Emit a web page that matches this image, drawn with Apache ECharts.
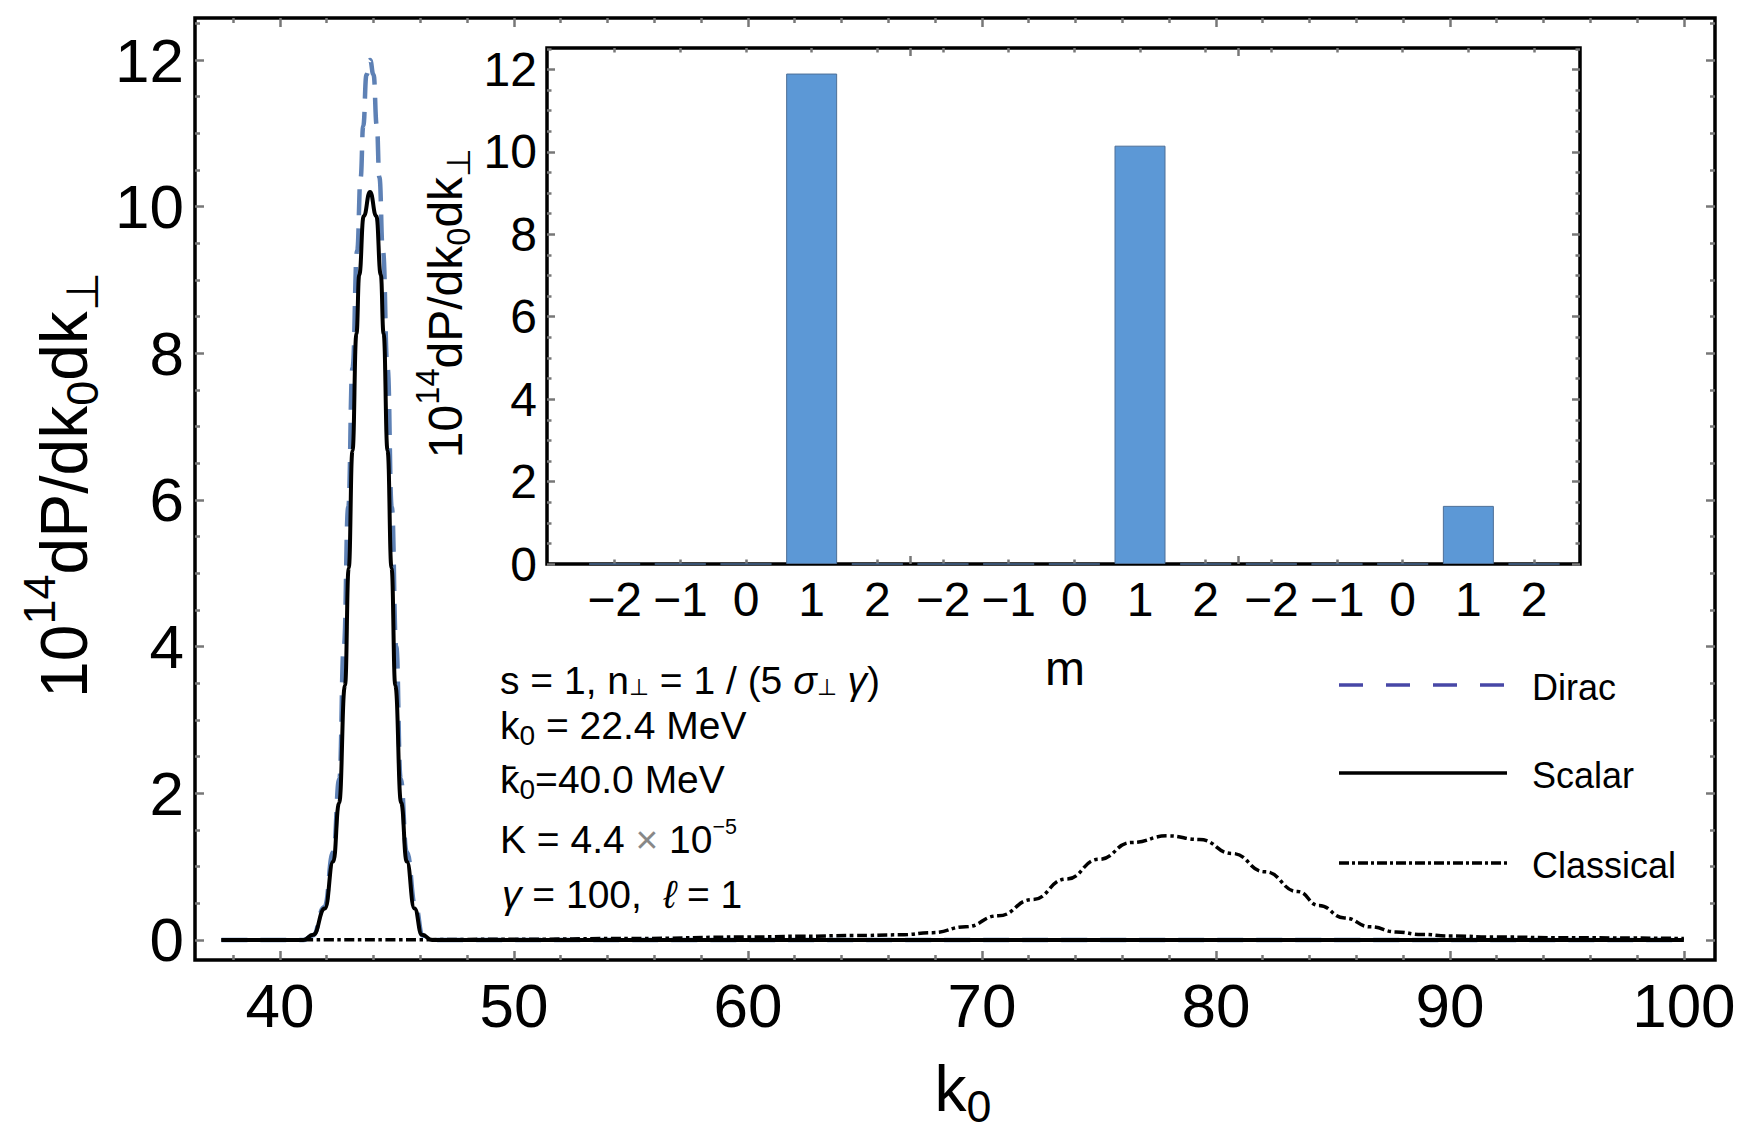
<!DOCTYPE html>
<html>
<head>
<meta charset="utf-8">
<title>Espectro k0</title>
<script src="https://cdn.jsdelivr.net/npm/echarts@6/dist/echarts.min.js"></script>
<style>
    html, body { margin: 0; padding: 0; background: #fff; }
    #chart { width: 1745px; height: 1132px; }
</style>
</head>
<body>
<div id="chart"></div>
<script>
// curvas principales: k0 (MeV) y 10^14 dP/dk0dk
var diracK = [37.5, 41.0, 41.4, 41.9, 42.28, 42.54, 42.73, 42.92, 43.1, 43.3, 43.45, 43.56, 43.7, 43.85, 44.0, 44.14, 44.25, 44.4, 44.6, 44.78, 44.97, 45.16, 45.42, 45.8, 46.1, 46.5, 100];
var diracVals = [0, 0, 0.06, 0.45, 1.2, 2.2, 4.0, 5.9, 7.8, 9.4, 10.4, 11.1, 11.8, 12.0, 11.8, 11.1, 10.4, 9.4, 7.8, 5.9, 4.0, 2.2, 1.2, 0.45, 0.06, 0, 0];

var scalarK = [37.5, 41.0, 41.42, 41.92, 42.28, 42.53, 42.78, 42.94, 43.1, 43.27, 43.39, 43.58, 43.85, 44.12, 44.31, 44.43, 44.6, 44.77, 44.93, 45.18, 45.42, 45.75, 46.07, 46.5, 100];
var scalarVals = [0, 0, 0.07, 0.43, 1.07, 1.87, 3.47, 5.07, 6.67, 8.27, 9.07, 9.87, 10.2, 9.87, 9.07, 8.27, 6.67, 5.07, 3.47, 1.87, 1.07, 0.43, 0.07, 0, 0];

var classicalK = [37.5, 45, 50, 55, 60, 62.2, 64.5, 66.5, 67.9, 69.3, 70.7, 72.15, 73.6, 75.0, 76.4, 77.95, 79.3, 80.7, 82.1, 83.5, 84.4, 85.5, 86.6, 87.7, 88.8, 90, 92, 95, 100];
var classicalVals = [0, 0.004, 0.01, 0.02, 0.04, 0.05, 0.06, 0.07, 0.10, 0.18, 0.33, 0.55, 0.83, 1.10, 1.33, 1.42, 1.37, 1.18, 0.93, 0.66, 0.47, 0.30, 0.18, 0.11, 0.075, 0.055, 0.04, 0.03, 0.02];

// recuadro: barras por m
var mLabels = ['−2', '−1', '0', '1', '2', '−2', '−1', '0', '1', '2', '−2', '−1', '0', '1', '2'];
var mPower = [0, 0, 0, 11.9, 0, 0, 0, 0, 10.15, 0, 0, 0, 0, 1.41, 0];

// marcas de los ejes
var k0Ticks = [40, 50, 60, 70, 80, 90, 100];
var k0MinorTicks = [38, 42, 44, 46, 48, 52, 54, 56, 58, 62, 64, 66, 68, 72, 74, 76, 78, 82, 84, 86, 88, 92, 94, 96, 98];
var powerTicks = [0, 2, 4, 6, 8, 10, 12];
var powerMinorTicks = [0.5, 1, 1.5, 2.5, 3, 3.5, 4.5, 5, 5.5, 6.5, 7, 7.5, 8.5, 9, 9.5, 10.5, 11, 11.5, 12.5];
var mTicks = [0, 1, 2, 3, 4, 5, 6, 7, 8, 9, 10, 11, 12, 13, 14];
var mGroupTicks = [4.5, 9.5];

var FONT = '"Liberation Sans", Arial, sans-serif';

function pares(xs, ys) {
    return xs.map(function (x, i) { return [x, ys[i]]; });
}

// estilos rich con sub/superindices alineados arriba y desplazados con padding
function richStyles(F, supRatio, subRatio, subDrop, lineHeight) {
    var fu = F * supRatio, fs = F * subRatio, fp = F * 0.6;
    var pu = supRatio ? 0.81 * (F - fu) - 0.47 * F : 0;
    var pm = pu < 0 ? -pu : 0;
    pu = pu + pm;
    var ps = pm + 0.81 * (F - fs) + subDrop * F;
    var pp = pm + 0.81 * (F - fp) + 0.05 * F;
    function tok(size, pad, extra) {
        var t = { fontSize: size, fontFamily: FONT, fill: '#000', verticalAlign: 'top', padding: [pad, 0, 0, 0] };
        if (lineHeight) { t.lineHeight = lineHeight; }
        for (var k in extra) { t[k] = extra[k]; }
        return t;
    }
    return {
        styles: {
            m: tok(F, pm),
            i: tok(F, pm, { fontStyle: 'italic' }),
            g: tok(F, pm, { fill: '#888' }),
            u: tok(fu || 1, pu),
            s: tok(fs, ps),
            p: tok(fp, pp)
        },
        capOffset: pm + 0.452 * F
    };
}

// texto rich: (cx, cy) es el centro de las mayusculas de la primera linea
function richText(cx, cy, str, rs, align, rot) {
    var off = rs.capOffset;
    var el = {
        type: 'text', z: 100,
        rotation: rot || 0,
        style: {
            text: str, rich: rs.styles, fontFamily: FONT, fontSize: 20,
            align: align, verticalAlign: 'top', textAlign: align, textVerticalAlign: 'top'
        }
    };
    if (rot) { el.x = cx - off; el.y = cy; } else { el.x = cx; el.y = cy - off; }
    return el;
}

function eje(grid, pos, min, max, ticks, len, label) {
    return {
        type: 'value', gridIndex: grid, position: pos, min: min, max: max,
        axisLine: { show: false, onZero: false },
        axisTick: { show: true, inside: true, length: len, customValues: ticks, lineStyle: { color: '#777', width: 2.5 } },
        axisLabel: label || { show: false },
        splitLine: { show: false }
    };
}

function legendText(y, txt) {
    return {
        type: 'text', x: 1532, y: y + 2, z: 100,
        style: { text: txt, fontSize: 36, fontFamily: FONT, fill: '#000', verticalAlign: 'middle', textVerticalAlign: 'middle' }
    };
}

function legendLine(y, color, dash) {
    return {
        type: 'line', z: 100,
        shape: { x1: 1339, y1: y, x2: 1507, y2: y },
        style: { stroke: color, lineWidth: 3.5, lineDash: dash || null }
    };
}

function initChart() {
    var chart = echarts.init(document.getElementById('chart'), null, { renderer: 'svg' });

    var titulo = richStyles(66, 0.68, 0.68, 0.18);
    var tituloInset = richStyles(48, 0.68, 0.68, 0.18);
    var ejeK = richStyles(64, 0, 0.7, 0.17);
    var nota = richStyles(39, 0.55, 0.72, 0.17);

    var xLabel = { show: true, customValues: k0Ticks, fontSize: 62, fontFamily: FONT, color: '#000', margin: 14 };
    var yLabel = { show: true, customValues: powerTicks, fontSize: 62, fontFamily: FONT, color: '#000', margin: 11 };
    var mLabel = {
        show: true, customValues: mTicks, fontSize: 48, fontFamily: FONT, color: '#000', margin: 11,
        formatter: function (v) { return mLabels[Math.round(v)]; }
    };
    var yInsetLabel = { show: true, customValues: powerTicks, fontSize: 48, fontFamily: FONT, color: '#000', margin: 10 };

    var legendY = [685, 773, 863];

    var option = {
        backgroundColor: '#fff',
        animation: false,
        grid: [
            { left: 195, top: 18, width: 1520, height: 942, show: true, borderColor: '#000', borderWidth: 3.5, backgroundColor: 'rgba(0,0,0,0)', outerBoundsMode: 'none' },
            { left: 547, top: 48, width: 1033, height: 516, show: true, borderColor: '#000', borderWidth: 3.5, backgroundColor: '#fff', outerBoundsMode: 'none' }
        ],
        xAxis: [
            eje(0, 'bottom', 36.37, 101.33, k0Ticks, 9, xLabel),
            eje(0, 'bottom', 36.37, 101.33, k0MinorTicks, 5),
            eje(0, 'top', 36.37, 101.33, k0Ticks, 9),
            eje(0, 'top', 36.37, 101.33, k0MinorTicks, 5),
            eje(1, 'bottom', -1.03, 14.7, mGroupTicks, 8, mLabel),
            eje(1, 'bottom', -1.03, 14.7, mTicks, 4.5),
            eje(1, 'top', -1.03, 14.7, mGroupTicks, 8),
            eje(1, 'top', -1.03, 14.7, mTicks, 4.5)
        ],
        yAxis: [
            eje(0, 'left', -0.273, 12.573, powerTicks, 9, yLabel),
            eje(0, 'left', -0.273, 12.573, powerMinorTicks, 5),
            eje(0, 'right', -0.273, 12.573, powerTicks, 9),
            eje(0, 'right', -0.273, 12.573, powerMinorTicks, 5),
            eje(1, 'left', 0, 12.52, powerTicks, 8, yInsetLabel),
            eje(1, 'left', 0, 12.52, powerMinorTicks, 4.5),
            eje(1, 'right', 0, 12.52, powerTicks, 8),
            eje(1, 'right', 0, 12.52, powerMinorTicks, 4.5)
        ],
        series: [
            {
                name: 'Dirac', type: 'line', xAxisIndex: 0, yAxisIndex: 0, z: 2,
                data: pares(diracK, diracVals), symbol: 'none', showSymbol: false,
                smooth: 0.5, smoothMonotone: 'x',
                lineStyle: { color: '#5e81b5', width: 4.5, type: [26, 13] }
            },
            {
                name: 'Scalar', type: 'line', xAxisIndex: 0, yAxisIndex: 0, z: 3,
                data: pares(scalarK, scalarVals), symbol: 'none', showSymbol: false,
                smooth: 0.5, smoothMonotone: 'x',
                lineStyle: { color: '#000', width: 4, type: 'solid' }
            },
            {
                name: 'Classical', type: 'line', xAxisIndex: 0, yAxisIndex: 0, z: 4,
                data: pares(classicalK, classicalVals), symbol: 'none', showSymbol: false,
                smooth: 0.5, smoothMonotone: 'x',
                lineStyle: { color: '#000', width: 3.5, type: [10, 3.5, 3.5, 3.5] }
            },
            {
                name: 'm', type: 'bar', xAxisIndex: 4, yAxisIndex: 4, z: 5,
                data: pares(mTicks, mPower), barWidth: 51,
                itemStyle: { color: '#5c98d6', borderColor: '#4d6f97', borderWidth: 1 }
            }
        ],
        graphic: [
            // titulos de ejes
            richText(61, 485, '{m|10}{u|14}{m|dP/dk}{s|0}{m|dk}{s|⊥}', titulo, 'center', Math.PI / 2),
            richText(963, 1086, '{m|k}{s|0}', ejeK, 'center'),
            richText(443, 303, '{m|10}{u|14}{m|dP/dk}{s|0}{m|dk}{s|⊥}', tituloInset, 'center', Math.PI / 2),
            {
                type: 'text', x: 1065, y: 668, z: 100,
                style: { text: 'm', fontSize: 48, fontFamily: FONT, fill: '#000', align: 'center', verticalAlign: 'middle', textAlign: 'center', textVerticalAlign: 'middle' }
            },
            // parametros
            richText(500, 679, '{m|s = 1, n}{p|⊥}{m| = 1 / (5 }{i|σ}{p|⊥}{m| }{i|γ}{m|)}', nota, 'left'),
            richText(500, 724, '{m|k}{s|0}{m| = 22.4 MeV}', nota, 'left'),
            richText(500, 777.5, '{m|k\u0304}{s|0}{m|=40.0 MeV}', nota, 'left'),
            richText(500, 838, '{m|K = 4.4 }{g|×}{m| 10}{u|−5}', nota, 'left'),
            richText(502, 893, '{i|γ}{m| = 100,  }{i|ℓ}{m| = 1}', nota, 'left'),
            // leyenda
            legendLine(legendY[0], '#4747a6', [24, 23]),
            legendLine(legendY[1], '#000'),
            legendLine(legendY[2], '#000', [10, 3, 3, 3]),
            legendText(legendY[0], 'Dirac'),
            legendText(legendY[1], 'Scalar'),
            legendText(legendY[2], 'Classical')
        ]
    };

    chart.setOption(option);
}

initChart();
</script>
</body>
</html>
